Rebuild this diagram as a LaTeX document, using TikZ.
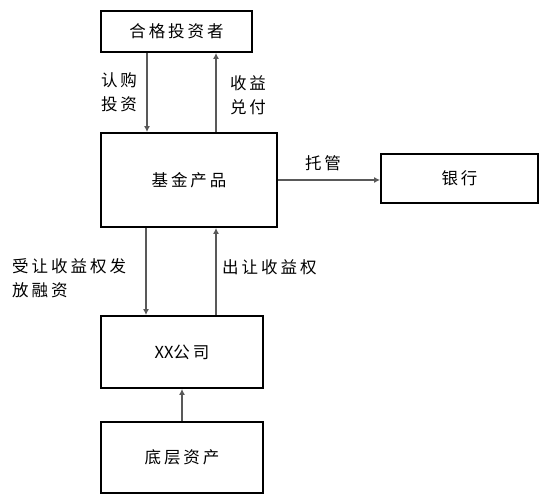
\documentclass[tikz,border=0pt]{standalone}
\usepackage{fontspec}
\newfontfamily\cjk[LetterSpace=18]{Noto Sans CJK SC}
\usetikzlibrary{arrows.meta}

\tikzset{
  box/.style={draw, line width=1.8pt, rectangle, inner sep=0pt, font=\cjk\fontsize{16.5}{24}\selectfont},
  flow/.style={draw=black!65, line width=2pt, -{Latex[length=6pt,width=6pt]}},
  lbl/.style={font=\cjk\fontsize{16.5}{24}\selectfont, inner sep=0pt}
}

\begin{document}
\begin{tikzpicture}[x=1pt, y=1pt]
    \useasboundingbox (0,0) rectangle (546,500);
    \node[box, minimum width=151pt, minimum height=41pt] (investor) at (176.5,468.5) {合格投资者};
    \node[box, minimum width=176pt, minimum height=94pt] (fund)     at (189,320)     {基金产品};
    \node[box, minimum width=157pt, minimum height=49pt] (bank)     at (459.5,321.5) {银行};
    \node[box, minimum width=162pt, minimum height=72pt] (company)  at (182,148)     {{\addfontfeature{LetterSpace=0}XX}公司};
    \node[box, minimum width=162pt, minimum height=71pt] (asset)    at (182,42.5)    {底层资产};

    \draw[flow] ([xshift=-42pt]fund.north |- investor.south) -- ([xshift=-42pt]fund.north);
    \draw[flow] ([xshift=27pt]fund.north) -- ([xshift=27pt]fund.north |- investor.south);
    \draw[flow] (fund.east) -- (fund.east -| bank.west);
    \draw[flow] ([xshift=-43pt]fund.south) -- ([xshift=-43pt]fund.south |- company.north);
    \draw[flow] ([xshift=27pt]fund.south |- company.north) -- ([xshift=27pt]fund.south);
    \draw[flow] (asset.north) -- (company.south);

    \node[lbl, align=center] (buy)      at (119,407.5) {认购\\投资};
    \node[lbl, align=center] (pay)      at (248,405)   {收益\\兑付};
    \node[lbl]               (custody)  at (323,337)   {托管};
    \node[lbl, align=left, anchor=west] (receive) at (12,221.5) {受让收益权发\\放融资};
    \node[lbl, anchor=west]  (transfer) at (222,233)   {出让收益权};
\end{tikzpicture}
\end{document}
